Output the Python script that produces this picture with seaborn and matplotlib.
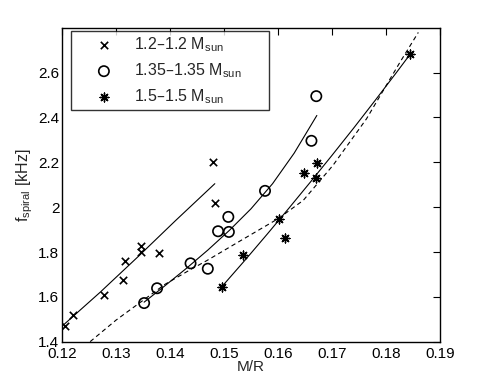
import matplotlib as mpl
mpl.use('Agg')
import matplotlib.pyplot as plt
import seaborn as sns
import pandas as pd

# simulation points (M/R, f_spiral in kHz)
mr_12 = [0.1206, 0.1220, 0.1278, 0.1312, 0.1316, 0.1347, 0.1347, 0.1380, 0.1484, 0.1479]
f_12 = [1.472, 1.520, 1.609, 1.674, 1.760, 1.828, 1.799, 1.795, 2.019, 2.201]

mr_135 = [0.1352, 0.1376, 0.1438, 0.1470, 0.1489, 0.1509, 0.1508, 0.1576, 0.1662, 0.1671]
f_135 = [1.573, 1.639, 1.750, 1.726, 1.893, 1.890, 1.957, 2.073, 2.296, 2.495]

mr_15 = [0.1496, 0.1535, 0.1602, 0.1613, 0.1648, 0.1670, 0.1673, 0.1844]
f_15 = [1.643, 1.788, 1.948, 1.861, 2.152, 2.130, 2.197, 2.681]

# fitted curves
fit_x_12 = [0.1200, 0.1270, 0.1340, 0.1410, 0.1483]
fit_y_12 = [1.470, 1.620, 1.778, 1.940, 2.105]

fit_x_135 = [0.1352, 0.1390, 0.1430, 0.1470, 0.1510, 0.1550, 0.1590, 0.1630, 0.1672]
fit_y_135 = [1.577, 1.649, 1.727, 1.809, 1.897, 1.993, 2.105, 2.241, 2.409]

fit_x_15 = [0.1496, 0.1540, 0.1580, 0.1620, 0.1660, 0.1700, 0.1740, 0.1780, 0.1820, 0.1844]
fit_y_15 = [1.646, 1.767, 1.880, 1.995, 2.112, 2.231, 2.352, 2.476, 2.602, 2.679]

fit_x_all = [0.1252, 0.1300, 0.1350, 0.1391, 0.1440, 0.1468, 0.1530, 0.1601,
             0.1647, 0.1702, 0.1764, 0.1826, 0.1860]
fit_y_all = [1.401, 1.497, 1.585, 1.657, 1.725, 1.762, 1.850, 1.950,
             2.031, 2.187, 2.394, 2.646, 2.779]

labels = ['1.2\u20131.2 M$_{sun}$', '1.35\u20131.35 M$_{sun}$', '1.5\u20131.5 M$_{sun}$']

pts = pd.DataFrame({
    'MR': mr_12 + mr_135 + mr_15,
    'f': f_12 + f_135 + f_15,
    'model': [labels[0]] * len(mr_12) + [labels[1]] * len(mr_135) + [labels[2]] * len(mr_15),
})

sns.set_style('white')
plt.rcParams['font.family'] = ['Liberation Sans', 'DejaVu Sans']
plt.rcParams['mathtext.default'] = 'regular'

fig = plt.figure(figsize=(4.85, 3.85), dpi=100)
ax = fig.add_axes([0.128, 0.112, 0.779, 0.816])

for fx, fy in [(fit_x_12, fit_y_12), (fit_x_135, fit_y_135), (fit_x_15, fit_y_15)]:
    sns.lineplot(x=fx, y=fy, ax=ax, color='black', lw=0.8, sort=False, estimator=None)
sns.lineplot(x=fit_x_all, y=fit_y_all, ax=ax, color='black', lw=0.8, sort=False,
             estimator=None, linestyle=(0, (4, 3)))

markers = {labels[0]: 'x', labels[1]: 'o', labels[2]: (8, 2, 0)}
sizes = {labels[0]: 28, labels[1]: 55, labels[2]: 40}
widths = {labels[0]: 1.2, labels[1]: 1.2, labels[2]: 1.0}
for lab in labels:
    sub = pts[pts['model'] == lab]
    sns.scatterplot(data=sub, x='MR', y='f', ax=ax, marker=markers[lab], s=sizes[lab],
                    facecolor='none' if lab == labels[1] else 'black',
                    edgecolor='black', linewidth=widths[lab], label=lab)

ax.set_xlim(0.12, 0.19)
ax.set_ylim(1.4, 2.8)
ax.set_xticks([0.12, 0.13, 0.14, 0.15, 0.16, 0.17, 0.18, 0.19])
ax.set_yticks([1.4, 1.6, 1.8, 2.0, 2.2, 2.4, 2.6])
ax.set_xticklabels(['0.12', '0.13', '0.14', '0.15', '0.16', '0.17', '0.18', '0.19'])
ax.set_yticklabels(['1.4', '1.6', '1.8', '2', '2.2', '2.4', '2.6'])
ax.tick_params(direction='in', length=5, width=0.8, top=True, right=True,
               labelsize=11, colors='black', pad=2)
ax.tick_params(axis='x', pad=4)
for sp in ax.spines.values():
    sp.set_color('black')
    sp.set_linewidth(1.0)

ax.set_xlabel('M/R', fontsize=11, labelpad=-1)
ax.set_ylabel('f$_{spiral}$ [kHz]', fontsize=11.5, labelpad=2)

leg = ax.legend(loc='upper left', bbox_to_anchor=(0.024, 0.70, 0.524, 0.288),
                mode='expand', fontsize=11.5, frameon=True, fancybox=False,
                edgecolor='black', borderaxespad=0, handletextpad=0.1,
                borderpad=0.25, labelspacing=0.45, handlelength=3.6)
leg.get_frame().set_linewidth(1.0)

fig.savefig('out.png', dpi=100)
